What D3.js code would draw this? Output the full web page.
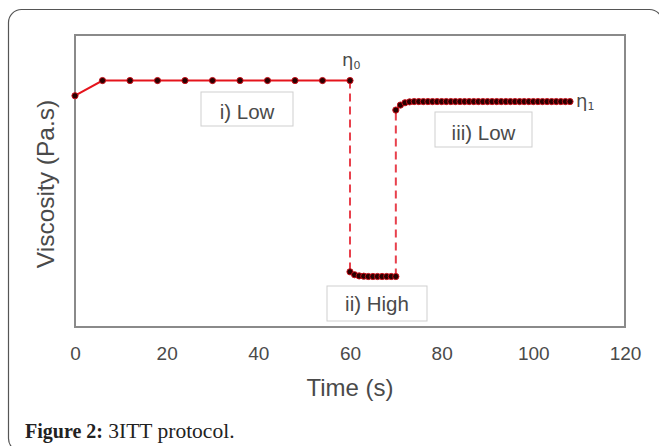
<!DOCTYPE html>
<html><head><meta charset="utf-8">
<script src="https://cdn.jsdelivr.net/npm/d3@7"></script>
<style>body{margin:0;background:#fff}svg{display:block}</style>
</head><body>
<svg id="c" width="659" height="446"></svg>
<script>
// ---- data (viscosity in arbitrary units) ----
const stage1Time = [0, 6, 12, 18, 24, 30, 36, 42, 48, 54, 60];
const stage1Visc = [79.2, 84.4, 84.4, 84.4, 84.4, 84.4, 84.4, 84.4, 84.4, 84.4, 84.4];
const stage2Time = [60, 61, 62, 63, 64, 65, 66, 67, 68, 69, 70];
const stage2Visc = [18.9, 17.9, 17.5, 17.4, 17.3, 17.3, 17.3, 17.3, 17.3, 17.3, 17.3];
const stage3Time = [70, 71, 72, 73, 74, 75, 76, 77, 78, 79, 80, 81, 82, 83, 84, 85, 86, 87, 88, 89,
  90, 91, 92, 93, 94, 95, 96, 97, 98, 99, 100, 101, 102, 103, 104, 105, 106, 107, 108];
const stage3Visc = [74.3, 76.0, 76.8, 77.1, 77.2, 77.2, 77.2, 77.2, 77.2, 77.2, 77.2, 77.2, 77.2, 77.2, 77.2,
  77.2, 77.2, 77.2, 77.2, 77.2, 77.2, 77.2, 77.2, 77.2, 77.2, 77.2, 77.2, 77.2, 77.2, 77.2, 77.2, 77.2,
  77.2, 77.2, 77.2, 77.2, 77.2, 77.2, 77.2];
const xTicks = [0, 20, 40, 60, 80, 100, 120];
const stageLabels = ["i) Low", "ii) High", "iii) Low"];
const xTitle = "Time (s)";
const yTitle = "Viscosity (Pa.s)";
const caption = ["Figure 2:", " 3ITT protocol."];

const svg = d3.select("#c");
// outer card frame
svg.append("rect").attr("x", 8.5).attr("y", 9.5).attr("width", 654).attr("height", 442)
  .attr("rx", 13).attr("fill", "none").attr("stroke", "#555").attr("stroke-width", 1.2);

const L = 75, R = 625, T = 35, B = 327;
const x = d3.scaleLinear().domain([0, 120]).range([L, R]);
const y = d3.scaleLinear().domain([0, 100]).range([B, T]);

// x axis tick labels
const xa = svg.append("g").attr("transform", `translate(0,${B})`)
  .call(d3.axisBottom(x).tickValues(xTicks).tickSize(0).tickPadding(20));
xa.select(".domain").remove();
xa.selectAll("text").attr("font-family", "Arial, 'Liberation Sans', sans-serif")
  .attr("font-size", 19).attr("fill", "#4a4a4a");

// plot frame
svg.append("rect").attr("x", L).attr("y", T).attr("width", R - L).attr("height", B - T)
  .attr("fill", "none").attr("stroke", "#8a8a8a").attr("stroke-width", 2);

const stages = [
  stage1Time.map((t, i) => [t, stage1Visc[i]]),
  stage2Time.map((t, i) => [t, stage2Visc[i]]),
  stage3Time.map((t, i) => [t, stage3Visc[i]])
];
const line = d3.line().x(d => x(d[0])).y(d => y(d[1]));

// dashed transitions
const trans = [
  [stages[0][stages[0].length - 1], stages[1][0]],
  [stages[1][stages[1].length - 1], stages[2][0]]
];
trans.forEach(tr => {
  svg.append("path").attr("d", line(tr)).attr("fill", "none")
    .attr("stroke", "#e8404c").attr("stroke-width", 2).attr("stroke-dasharray", "8,5");
});
stages.forEach(s => {
  svg.append("path").attr("d", line(s)).attr("fill", "none")
    .attr("stroke", "#e5141c").attr("stroke-width", 2);
});
stages.forEach(s => {
  svg.append("g").selectAll("circle").data(s).join("circle")
    .attr("cx", d => x(d[0])).attr("cy", d => y(d[1])).attr("r", 3.1)
    .attr("fill", "#2a0000").attr("stroke", "#c8101a").attr("stroke-width", 1);
});

// stage label boxes
const boxes = [
  {x: 201, y: 92, w: 92, h: 34, tx: 247, ty: 119},
  {x: 327, y: 286, w: 100, h: 35, tx: 377, ty: 311},
  {x: 435, y: 112, w: 97, h: 35, tx: 483.5, ty: 140}
];
boxes.forEach((b, i) => {
  svg.append("rect").attr("x", b.x).attr("y", b.y).attr("width", b.w).attr("height", b.h)
    .attr("fill", "#fff").attr("stroke", "#cfcfcf").attr("stroke-width", 1);
  svg.append("text").attr("x", b.tx).attr("y", b.ty).attr("text-anchor", "middle")
    .attr("font-family", "Arial, 'Liberation Sans', sans-serif").attr("font-size", 20.5)
    .attr("fill", "#4a4a4a").text(stageLabels[i]);
});

// eta labels
function eta(px, py, sub) {
  const t = svg.append("text").attr("x", px).attr("y", py)
    .attr("font-family", "'DejaVu Sans', Arial, sans-serif").attr("font-size", 18).attr("fill", "#4a4a4a");
  t.append("tspan").text("η");
  t.append("tspan").attr("font-size", 11).attr("dy", 3).text(sub);
}
eta(342, 66, "0");
eta(576, 107, "1");

// axis titles
svg.append("text").attr("x", (L + R) / 2).attr("y", 396).attr("text-anchor", "middle")
  .attr("font-family", "Arial, 'Liberation Sans', sans-serif").attr("font-size", 24)
  .attr("fill", "#4a4a4a").text(xTitle);
svg.append("text").attr("transform", "translate(54,184) rotate(-90)").attr("text-anchor", "middle")
  .attr("font-family", "Arial, 'Liberation Sans', sans-serif").attr("font-size", 24.5)
  .attr("fill", "#4a4a4a").text(yTitle);

// caption
const cap = svg.append("text").attr("x", 25).attr("y", 438)
  .attr("font-family", "'Liberation Serif', 'Times New Roman', serif").attr("font-size", 20).attr("fill", "#222");
cap.append("tspan").attr("font-weight", "bold").attr("font-size", 20).text(caption[0]);
cap.append("tspan").attr("font-size", 21.5).text(caption[1]);
</script>
</body></html>
